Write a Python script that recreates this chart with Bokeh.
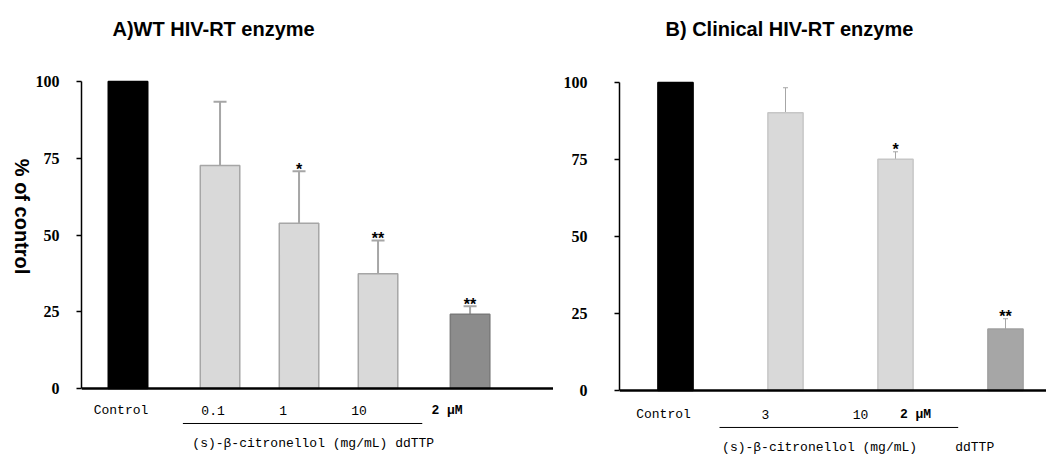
import math
from bokeh.plotting import figure
from bokeh.models import Range1d, FixedTicker, Span, ColumnDataSource, Whisker, TeeHead
from bokeh.layouts import row
from bokeh.embed import file_html
from bokeh.resources import INLINE
from bokeh.core.properties import value

# ---------------- data ----------------
a_title = "A)WT HIV-RT enzyme"
a_categories = ["Control", "0.1", "1", "10", "2 μM"]
a_groups = [0, 1, 1, 1, 2]
a_values = [100, 72.6, 53.8, 37.4, 24.2]
a_errors = [0, 20.8, 17.0, 10.8, 2.6]
a_signif = ["", "", "*", "**", "**"]

b_title = "B) Clinical HIV-RT enzyme"
b_categories = ["Control", "3", "10", "2 μM"]
b_groups = [0, 1, 1, 2]
b_values = [100, 90.2, 75.1, 20.0]
b_errors = [0, 8.1, 2.4, 3.3]
b_signif = ["", "", "*", "**"]

y_ticks = [0, 25, 50, 75, 100]
y_label = "% of control"
group_caption = "(s)-β-citronellol (mg/mL)"
ref_caption = "ddTTP"

# ---------------- styles ----------------
SANS = value("Liberation Sans")
MONO = value("Liberation Mono")
HEIGHT = 455
LABEL_W = 31


def panel(title, cats, groups, vals, errs, sig, *, width, left, unit, lead, gap,
          bar_w, ppu, zero_px, fills, lines, err_color, err_w, cap, title_left,
          label_shift, label_y, underline, captions, tick_standoff):
    frame_w = width - left
    xs = [i + gap * g for i, g in enumerate(groups)]
    x_lo = -lead / unit
    x_hi = x_lo + frame_w / unit
    y_lo = -(HEIGHT - zero_px) / ppu
    y_hi = zero_px / ppu
    p = figure(width=width, height=HEIGHT, output_backend="svg", toolbar_location=None,
               x_range=Range1d(x_lo, x_hi), y_range=Range1d(y_lo, y_hi),
               min_border_left=left, min_border_right=0, min_border_top=0,
               min_border_bottom=0, outline_line_color=None, background_fill_color="white",
               border_fill_color="white")
    p.grid.visible = False
    p.xaxis.visible = False

    ax = p.yaxis[0]
    ax.ticker = FixedTicker(ticks=y_ticks)
    ax.bounds = (0, 100)
    ax.major_tick_out = 5
    ax.major_tick_in = 0
    ax.minor_tick_out = 0
    ax.minor_tick_in = 0
    ax.axis_line_width = 1.5
    ax.axis_line_color = "black"
    ax.major_tick_line_color = "black"
    ax.major_tick_line_width = 1.5
    ax.major_label_standoff = tick_standoff
    ax.major_label_text_font = "Liberation Serif"
    ax.major_label_text_font_style = "bold"
    ax.major_label_text_font_size = "16px"
    ax.major_label_text_color = "black"

    # title drawn as text in the space above the frame
    p.text(x=[x_lo + title_left / unit], y=[(zero_px - 28) / ppu], text=[title],
           text_align="left", text_baseline="middle", text_font=SANS,
           text_font_style="bold", text_font_size="20px", text_color="black")

    src = ColumnDataSource(dict(x=xs, top=vals, fill=fills, line=lines))
    p.vbar(x="x", top="top", bottom=0, width=bar_w, fill_color="fill",
           line_color="line", line_width=1.5, source=src)

    ex = [x for x, e in zip(xs, errs) if e > 0]
    et = [v for v, e in zip(vals, errs) if e > 0]
    eu = [v + e for v, e in zip(vals, errs) if e > 0]
    es = [s for s, e in zip(sig, errs) if e > 0]
    esrc = ColumnDataSource(dict(x=ex, lower=et, upper=eu, sig=es))
    w = Whisker(source=esrc, base="x", lower="lower", upper="upper",
                line_color=err_color, line_width=err_w, lower_head=None,
                upper_head=TeeHead(size=cap, line_color=err_color, line_width=err_w))
    p.add_layout(w)
    p.text(x="x", y="upper", text="sig", source=esrc, text_align="center",
           text_baseline="alphabetic", y_offset=-2, text_font=SANS, text_font_style="bold",
           text_font_size="16px", text_color="black")

    p.add_layout(Span(location=0, dimension="width", line_color="black", line_width=2.5))

    lsrc = ColumnDataSource(dict(x=xs, text=cats, dx=label_shift,
                                 style=["bold" if "μ" in c else "normal" for c in cats]))
    p.text(x="x", y=label_y, text="text", x_offset="dx", source=lsrc, text_align="center",
           text_baseline="middle", text_font=MONO, text_font_style="style",
           text_font_size="13px", text_color="black")

    i0, i1, d0, d1, uy = underline
    p.segment(x0=[xs[i0] + d0], y0=[uy], x1=[xs[i1] + d1], y1=[uy],
              line_color="black", line_width=1)

    for (txt, idx, dx, cy) in captions:
        p.text(x=[xs[idx] + dx], y=[cy], text=[txt], text_align="center",
               text_baseline="middle", text_font=MONO, text_font_size="13px",
               text_color="black")
    return p


pA = panel(a_title, a_categories, a_groups, a_values, a_errors, a_signif,
           width=553 - LABEL_W, left=81 - LABEL_W, unit=79, lead=46.5, gap=0.165, bar_w=0.5,
           ppu=3.07, zero_px=388,
           fills=["#000000", "#d9d9d9", "#d9d9d9", "#d9d9d9", "#8c8c8c"],
           lines=["#000000", "#a6a6a6", "#a6a6a6", "#a6a6a6", "#7a7a7a"],
           err_color="#a6a6a6", err_w=2, cap=13, title_left=31,
           label_shift=[-7, -7, -16, -19, -23], label_y=-7.2,
           underline=(1, 3, -0.47, 0.56, -11.4),
           captions=[(group_caption + " " + ref_caption, 2, 0.18, -17.9)],
           tick_standoff=17)

pB = panel(b_title, b_categories, b_groups, b_values, b_errors, b_signif,
           width=493, left=66, unit=110, lead=56, gap=0.0, bar_w=0.32,
           ppu=3.08, zero_px=390,
           fills=["#000000", "#d9d9d9", "#d9d9d9", "#a6a6a6"],
           lines=["#000000", "#c6c6c6", "#c6c6c6", "#a0a0a0"],
           err_color="#a6a6a6", err_w=1, cap=5, title_left=46,
           label_shift=[-12, -20, -35, -90], label_y=-7.8,
           underline=(1, 2, -0.6, 0.57, -12.0),
           captions=[(group_caption, 1, 0.31, -18.5), (ref_caption, 3, -0.28, -18.5)],
           tick_standoff=27)

# narrow strip carrying the rotated y-axis title of panel A
pL = figure(width=LABEL_W, height=HEIGHT, output_backend="svg", toolbar_location=None,
            x_range=Range1d(0, LABEL_W), y_range=pA.y_range, min_border=0,
            outline_line_color=None, border_fill_color="white")
pL.axis.visible = False
pL.grid.visible = False
pL.text(x=[21], y=[56], text=[y_label], angle=-math.pi / 2, text_align="center",
        text_baseline="middle", text_font=SANS, text_font_style="bold",
        text_font_size="20px", text_color="black")

layout = row(pL, pA, pB)
open("out.html", "w").write(file_html(layout, INLINE))
